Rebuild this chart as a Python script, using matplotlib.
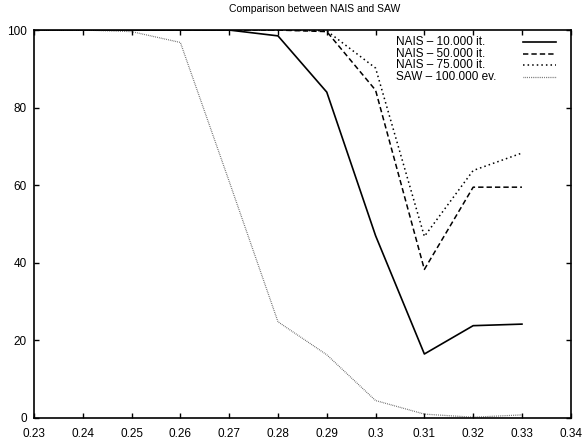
import matplotlib
matplotlib.use("Agg")
import matplotlib.pyplot as plt

plt.rcParams['font.family'] = ['Liberation Sans', 'DejaVu Sans']

# x values (parameter)
x = [0.23, 0.24, 0.25, 0.26, 0.27, 0.28, 0.29, 0.30, 0.31, 0.32, 0.33]

# success rates
nais_10k = [100, 100, 100, 100, 100, 98.5, 84, 47, 16.5, 23.8, 24.2]
nais_50k = [100, 100, 100, 100, 100, 100, 99.6, 84.5, 38.3, 59.5, 59.5]
nais_75k = [100, 100, 100, 100, 100, 100, 99.8, 90.2, 46.8, 63.8, 68.3]
saw_100k = [100, 100, 99.6, 96.8, 61, 24.8, 16.3, 4.5, 1.0, 0.2, 0.8]

labels = ["NAIS \u2013 10.000 it.", "NAIS \u2013 50.000 it.",
          "NAIS \u2013 75.000 it.", "SAW \u2013 100.000 ev."]
xticks = [0.23, 0.24, 0.25, 0.26, 0.27, 0.28, 0.29, 0.30, 0.31, 0.32, 0.33, 0.34]
xticklabels = ["0.23", "0.24", "0.25", "0.26", "0.27", "0.28", "0.29",
               "0.3", "0.31", "0.32", "0.33", "0.34"]
yticks = [0, 20, 40, 60, 80, 100]

fig = plt.figure(figsize=(5.83, 4.42), dpi=100)
ax = fig.add_axes([0.0583, 0.0543, 0.9207, 0.8777])

styles = [
    dict(color="black", lw=1.2),
    dict(color="black", lw=1.1, dashes=(3.5, 2)),
    dict(color="black", lw=1.1, dashes=(1, 2)),
    dict(color="#555555", lw=0.9, dashes=(0.6, 0.9)),
]
series = [nais_10k, nais_50k, nais_75k, saw_100k]
for ys, st in zip(series, styles):
    ax.plot(x, ys, **st)

ax.set_xlim(0.23, 0.34)
ax.set_ylim(0, 100)
ax.set_xticks(xticks)
ax.set_xticklabels(xticklabels)
ax.set_yticks(yticks)
ax.tick_params(direction="in", top=True, right=True, length=3.5, width=1,
               labelsize=8.5, colors="black")
ax.tick_params(axis="x", pad=7)
ax.tick_params(axis="y", pad=5)
for s in ax.spines.values():
    s.set_linewidth(1.2)

fig.text(0.54, 0.979, "Comparison between NAIS and SAW", fontsize=7.5,
         ha="center", va="center")

# gnuplot-style key: text left, sample line right
for i, (lab, st) in enumerate(zip(labels, styles)):
    yk = 0.969 - i * 0.0299
    ax.text(0.674, yk, lab, transform=ax.transAxes, fontsize=8.5,
            ha="left", va="center")
    ax.plot([0.911, 0.972], [yk, yk], transform=ax.transAxes, **st)

fig.savefig("out.png", dpi=100)
